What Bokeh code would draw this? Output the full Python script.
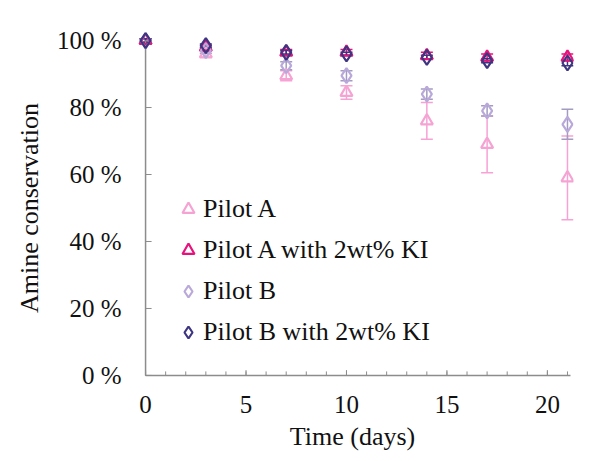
from bokeh.plotting import figure
from bokeh.models import ColumnDataSource, Whisker, TeeHead, Legend, LegendItem, FixedTicker, Range1d
from bokeh.embed import file_html
from bokeh.resources import INLINE

days = [0, 3, 7, 10, 14, 17, 21]
pilot_a = [100, 96, 89.5, 84.5, 76, 69, 59]
pilot_a_err = [0.5, 1.0, 1.5, 2.0, 5.5, 8.5, 12.5]
pilot_a_ki = [100, 98, 96.5, 96.5, 95.5, 95, 95]
pilot_a_ki_err = [0.5, 0.5, 0.8, 0.8, 1.0, 1.0, 1.0]
pilot_b = [100, 97, 92.5, 89.5, 84, 79, 75]
pilot_b_err = [0.5, 0.8, 1.2, 1.5, 1.5, 1.5, 4.5]
pilot_b_ki = [100, 98.5, 96.5, 96, 95, 94, 93.3]
pilot_b_ki_err = [0.5, 0.5, 0.5, 0.5, 0.6, 0.6, 0.8]

labels = ["Pilot A", "Pilot A with 2wt% KI", "Pilot B", "Pilot B with 2wt% KI"]
x_ticks = [0, 5, 10, 15, 20]
x_minor = list(range(0, 22))
y_ticks = [0, 20, 40, 60, 80, 100]
x_end = 21.15
y_end = 100

FONT = "'Liberation Serif', 'Times New Roman', serif"
AX = "#8c8c8c"

p = figure(width=605, height=461, output_backend="svg", toolbar_location=None,
           x_range=Range1d(-0.7, 21.3), y_range=Range1d(-3, 103),
           min_border_left=131, min_border_right=32, min_border_top=30, min_border_bottom=76)
p.outline_line_color = None
p.grid.visible = False
p.background_fill_color = "white"
p.border_fill_color = "white"

# axis lines and inward ticks drawn at the data origin
p.segment(x0=[0, 0], y0=[0, 0], x1=[0, x_end], y1=[y_end, 0], line_color=AX, line_width=1.5)
p.segment(x0=x_minor, y0=[0] * len(x_minor), x1=x_minor, y1=[1.2] * len(x_minor),
          line_color=AX, line_width=1)
p.segment(x0=x_ticks, y0=[0] * len(x_ticks), x1=x_ticks, y1=[1.6] * len(x_ticks),
          line_color=AX, line_width=1)
p.segment(x0=[0] * len(y_ticks), y0=y_ticks, x1=[0.3] * len(y_ticks), y1=y_ticks,
          line_color=AX, line_width=1)

series = [
    (pilot_a, pilot_a_err, "#F5A3D3", "triangle", 12, "#F7A1D5"),
    (pilot_a_ki, pilot_a_ki_err, "#E8127C", "triangle", 12, "#E8127C"),
    (pilot_b, pilot_b_err, "#B9A9DA", "diamond", 15, "#A49BC0"),
    (pilot_b_ki, pilot_b_ki_err, "#3D3580", "diamond", 15, "#3D3580"),
]

items = []
for (vals, errs, col, mk, sz, ecol), lab in zip(series, labels):
    src = ColumnDataSource(dict(x=days, y=vals,
                                upper=[v + e for v, e in zip(vals, errs)],
                                lower=[v - e for v, e in zip(vals, errs)]))
    w = Whisker(source=src, base="x", upper="upper", lower="lower",
                line_color=ecol, line_width=1.5,
                upper_head=TeeHead(size=12, line_color=ecol, line_width=1.5),
                lower_head=TeeHead(size=12, line_color=ecol, line_width=1.5))
    p.add_layout(w)
    r = p.scatter("x", "y", source=src, marker=mk, size=sz, line_color=col,
                  line_width=2.2, fill_color="white", fill_alpha=0.0)
    items.append(LegendItem(label=lab, renderers=[r]))

legend = Legend(items=items, location=(42, 38), background_fill_alpha=0,
                border_line_color=None, label_text_font=FONT, label_text_font_size="26px",
                label_text_color="#111111", glyph_width=30, glyph_height=30,
                label_standoff=0, spacing=11, padding=0, margin=0, label_height=30)
p.add_layout(legend)

for ax in (p.xaxis[0], p.yaxis[0]):
    ax.axis_line_color = None
    ax.major_tick_line_color = None
    ax.minor_tick_line_color = None
    ax.major_label_text_font = FONT
    ax.major_label_text_font_size = "25px"
    ax.major_label_text_color = "#111111"
    ax.axis_label_text_font = FONT
    ax.axis_label_text_font_size = "26px"
    ax.axis_label_text_font_style = "normal"
    ax.axis_label_text_color = "#111111"
    ax.major_tick_out = 0
    ax.minor_tick_out = 0
    ax.major_tick_in = 0
    ax.minor_tick_in = 0

p.xaxis.ticker = FixedTicker(ticks=x_ticks, minor_ticks=[])
p.xaxis.axis_label = "Time (days)"
p.xaxis.major_label_standoff = 10
p.xaxis.axis_label_standoff = 6

p.yaxis.ticker = FixedTicker(ticks=y_ticks, minor_ticks=[])
p.yaxis.axis_label = "Amine conservation"
p.yaxis.major_label_overrides = {t: f"{t} %" for t in y_ticks}
p.yaxis.major_label_standoff = 10
p.yaxis.axis_label_standoff = 10

open("out.html", "w").write(file_html(p, INLINE))
